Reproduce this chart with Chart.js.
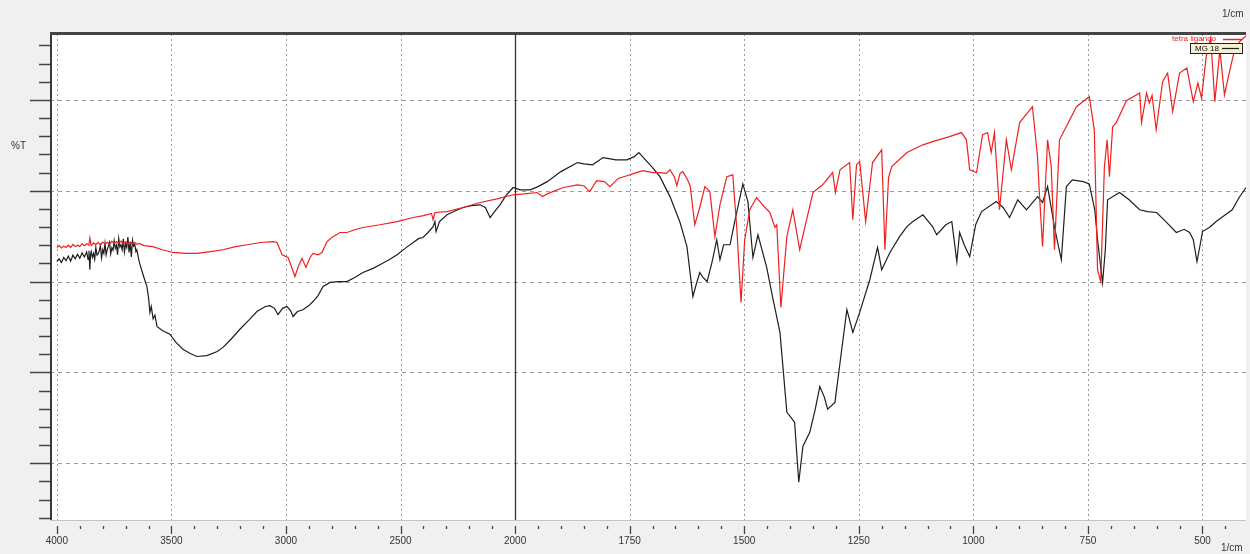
<!DOCTYPE html>
<html>
<head>
<meta charset="utf-8">
<title>FTIR</title>
<script src="https://cdn.jsdelivr.net/npm/chart.js@4.4.1/dist/chart.umd.min.js"></script>
<style>
  html, body { margin: 0; padding: 0; background: #f0f0f0; }
  #wrap { width: 1250px; height: 554px; }
</style>
</head>
<body>
<div id="wrap"><canvas id="ir" width="1250" height="554"></canvas></div>
<script>
// MG 18 spectrum (black)
const mgWavenumber = [4000,3990,3980,3970,3960,3950,3940,3930,3920,3910,3900,3890,3880,3870,3864,3860,3856,3853,3850,3845,3840,3835,3830,3825,3820,3815,3810,3805,3800,3795,3790,3785,3780,3775,3770,3765,3760,3755,3750,3745,3740,3735,3730,3725,3720,3715,3710,3705,3700,3695,3690,3685,3680,3675,3670,3665,3660,3655,3651,3640,3620,3607,3600,3594,3588,3580,3572,3563,3540,3507,3480,3450,3420,3389,3345,3300,3275,3240,3201,3160,3127,3090,3070,3050,3035,3015,2996,2980,2969,2950,2926,2900,2882,2860,2838,2808,2770,2734,2700,2664,2620,2590,2550,2515,2480,2445,2420,2402,2380,2358,2350,2345,2330,2297,2260,2227,2190,2153,2130,2109,2090,2066,2040,2009,1989,1967,1950,1930,1900,1864,1850,1831,1808,1780,1756,1740,1730,1712,1700,1684,1662,1640,1625,1612,1605,1597,1590,1581,1570,1560,1553,1545,1531,1520,1503,1492,1481,1470,1451,1437,1422,1407,1398,1390,1381,1372,1357,1345,1335,1325,1318,1302,1290,1276,1263,1248,1226,1209,1200,1182,1161,1145,1132,1110,1089,1080,1060,1047,1036,1030,1020,1008,995,982,950,935,921,903,884,860,849,838,823,815,808,797,784,760,747,735,729,718,712,707,681,660,637,620,600,580,557,540,528,520,512,505,500,485,470,450,435,420,405];
const mgTransmittance = [44.4,45.0,44.2,45.3,44.6,45.6,44.5,45.8,45.0,46.0,45.1,46.3,45.4,46.5,44.9,46.8,42.6,46.0,46.6,45.3,46.2,44.9,47.5,45.8,46.1,46.8,47.9,45.2,47.0,46.2,48.4,45.9,47.1,47.8,48.6,46.1,47.4,46.9,49.0,47.3,48.0,45.9,49.5,47.6,48.1,47.0,49.4,46.5,48.3,47.5,49.8,46.4,48.6,45.4,49.1,47.8,48.2,46.6,47.0,44.2,40.9,38.9,36.5,33.2,34.5,31.8,32.6,30.1,29.2,28.4,26.6,25.1,24.2,23.5,23.7,24.6,25.5,27.3,29.5,31.6,33.4,34.5,34.7,34.1,32.7,34.1,34.5,33.6,32.3,33.4,33.8,34.7,35.6,36.9,38.9,39.8,40.0,40.0,40.9,42.0,42.9,43.7,44.8,45.9,47.3,48.6,49.5,49.7,50.8,52.1,53.2,51.0,53.2,54.7,55.6,56.3,56.7,56.9,56.3,54.1,55.4,56.9,58.9,60.7,60.2,60.2,60.9,62.0,64.2,66.2,65.9,65.7,67.3,66.8,66.8,67.5,68.4,66.4,65.1,63.1,58.7,53.0,47.7,36.7,39.3,42.0,40.9,40.0,44.4,49.2,44.8,48.1,48.1,53.6,61.5,57.6,45.3,50.3,43.1,36.0,28.8,11.2,10.1,9.0,-4.2,3.7,6.8,11.9,16.9,14.5,11.9,13.4,22.9,33.8,28.8,33.2,40.4,47.5,42.6,46.4,49.9,52.1,53.2,54.7,52.1,50.3,52.5,53.2,44.4,50.8,48.1,45.5,52.5,55.4,57.6,56.3,54.1,58.0,55.8,58.7,57.4,60.9,52.1,48.1,44.8,60.9,62.4,62.0,61.5,55.8,49.2,39.8,47.0,58.0,59.6,58.0,55.8,55.4,55.2,53.2,50.8,51.5,50.8,49.2,44.4,48.1,51.0,51.9,53.2,54.7,55.8,58.5,60.7];

// tetra ligando spectrum (red)
const tetraWavenumber = [4000,3990,3980,3970,3960,3950,3940,3930,3920,3910,3900,3890,3880,3870,3860,3856,3850,3840,3830,3820,3810,3800,3790,3780,3770,3760,3750,3740,3730,3720,3710,3700,3690,3680,3670,3660,3650,3640,3620,3581,3540,3493,3440,3389,3330,3275,3220,3170,3110,3057,3039,3026,3017,2991,2975,2961,2945,2930,2913,2895,2882,2860,2843,2821,2800,2764,2734,2700,2664,2590,2515,2445,2400,2365,2358,2350,2297,2227,2153,2079,2009,1980,1952,1940,1930,1895,1864,1850,1837,1822,1805,1793,1775,1756,1740,1721,1700,1684,1670,1662,1652,1647,1640,1634,1625,1618,1608,1597,1586,1575,1564,1553,1538,1525,1516,1507,1499,1488,1473,1460,1444,1433,1429,1420,1407,1394,1379,1364,1350,1329,1307,1301,1291,1270,1263,1255,1248,1235,1220,1200,1193,1185,1178,1145,1110,1089,1052,1026,1015,1008,993,980,969,961,954,943,928,917,899,871,860,856,849,838,830,823,812,775,747,736,729,722,714,708,703,696,688,666,637,633,622,616,610,601,587,576,565,550,534,520,510,502,491,482,473,462,452,441,430,419,405];
const tetraTransmittance = [47.5,47.9,47.4,47.8,47.5,48.0,47.5,48.2,47.7,48.0,47.7,48.3,47.9,48.3,48.0,49.6,47.9,48.5,48.1,48.6,48.0,48.7,48.3,48.6,48.2,48.9,48.4,48.8,48.4,48.9,48.3,48.8,48.3,48.7,48.3,48.6,48.2,48.4,47.9,47.7,47.0,46.4,46.2,46.2,46.6,47.0,47.7,48.1,48.6,48.8,48.6,47.0,45.9,45.3,43.1,41.1,43.5,45.1,43.1,45.3,46.2,45.9,46.4,48.8,49.7,50.8,50.8,51.4,51.9,52.5,53.2,54.1,54.5,55.0,53.6,55.2,55.4,56.3,57.4,58.2,59.1,59.3,59.6,58.7,59.3,60.7,61.3,61.1,59.8,62.2,62.0,60.9,62.7,63.3,63.8,64.4,64.0,64.0,63.8,64.6,62.9,61.1,63.8,64.2,62.7,61.1,52.5,56.3,60.9,59.8,49.9,56.9,63.1,63.5,51.4,35.4,49.2,55.8,58.5,56.9,55.2,51.9,52.5,34.3,49.9,55.8,47.0,53.6,59.6,61.3,64.0,59.6,64.6,66.2,53.6,65.7,66.4,53.2,66.2,69.0,47.0,62.9,65.3,68.4,70.1,70.8,71.9,72.8,71.2,64.6,64.0,72.3,72.8,68.4,72.8,55.8,71.2,64.6,75.0,78.5,67.5,59.6,47.7,71.2,65.3,47.0,71.2,78.5,80.7,73.4,42.6,40.0,65.3,71.2,63.1,74.1,75.0,79.8,81.5,75.0,81.5,79.3,81.0,73.4,84.0,85.9,77.4,85.9,87.0,79.6,83.7,80.4,90.3,93.6,79.6,91.0,81.1,86.2,91.0,92.8,94.1];

// Labelled wavenumber ticks
const majorTicks = [4000, 3500, 3000, 2500, 2000, 1750, 1500, 1250, 1000, 750, 500];
// Major horizontal grid levels of the %T axis
const yMajor = [0, 20, 40, 60, 80];

// The wavenumber axis is stretched 2x below 2000 1/cm.
function toAxis(w) { return w >= 2000 ? 4000 - w : 2000 + 2 * (2000 - w); }
function fromAxis(p) { return p <= 2000 ? 4000 - p : 2000 - (p - 2000) / 2; }

const minorTicks = [];
for (let w = 3900; w > 2000; w -= 100) if (!majorTicks.includes(w)) minorTicks.push(w);
for (let w = 1950; w >= 450; w -= 50) if (!majorTicks.includes(w)) minorTicks.push(w);
const allTicks = majorTicks.concat(minorTicks).sort((a, b) => b - a);

const mgPoints = mgWavenumber.map((w, i) => ({ x: toAxis(w), y: mgTransmittance[i] }));
const tetraPoints = tetraWavenumber.map((w, i) => ({ x: toAxis(w), y: tetraTransmittance[i] }));

const FONT = '"Liberation Sans", Arial, sans-serif';
const RED = '#ee2020';

const spectrumFrame = {
  id: 'spectrumFrame',
  beforeDraw(chart) {
    const { ctx, chartArea: a } = chart;
    ctx.save();
    ctx.fillStyle = '#f0f0f0';
    ctx.fillRect(0, 0, chart.width, chart.height);
    ctx.fillStyle = '#ffffff';
    ctx.fillRect(a.left, a.top, a.right - a.left, a.bottom - a.top);
    ctx.restore();
  },
  beforeDatasetsDraw(chart) {
    const { ctx, chartArea: a, scales: { x, y } } = chart;
    ctx.save();
    ctx.lineWidth = 1;
    ctx.strokeStyle = '#9c9c9c';
    ctx.setLineDash([4, 4]);
    yMajor.forEach(v => {
      const py = Math.round(y.getPixelForValue(v)) + 0.5;
      ctx.beginPath(); ctx.moveTo(a.left, py); ctx.lineTo(a.right, py); ctx.stroke();
    });
    ctx.setLineDash([2, 3]);
    majorTicks.forEach(w => {
      if (w === 2000) return;
      const px = Math.round(x.getPixelForValue(toAxis(w))) + 0.5;
      ctx.beginPath(); ctx.moveTo(px, a.top); ctx.lineTo(px, a.bottom); ctx.stroke();
    });
    ctx.setLineDash([]);
    ctx.strokeStyle = '#333333';
    ctx.lineWidth = 1.3;
    const p2 = Math.round(x.getPixelForValue(toAxis(2000))) + 0.5;
    ctx.beginPath(); ctx.moveTo(p2, a.top); ctx.lineTo(p2, a.bottom); ctx.stroke();
    ctx.restore();
  },
  afterDraw(chart) {
    const { ctx, chartArea: a, scales: { x, y } } = chart;
    ctx.save();
    // frame
    ctx.strokeStyle = '#c4c4c4';
    ctx.lineWidth = 1;
    ctx.beginPath(); ctx.moveTo(a.left, a.bottom + 0.5); ctx.lineTo(a.right, a.bottom + 0.5); ctx.stroke();
    ctx.strokeStyle = '#3a3a3a';
    ctx.lineWidth = 2;
    ctx.beginPath(); ctx.moveTo(a.left + 1, a.top); ctx.lineTo(a.left + 1, a.bottom); ctx.stroke();
    ctx.lineWidth = 3;
    ctx.strokeStyle = '#444444';
    ctx.beginPath(); ctx.moveTo(a.left, a.top - 0.5); ctx.lineTo(a.right, a.top - 0.5); ctx.stroke();

    // %T ticks on the left
    ctx.strokeStyle = '#444444';
    ctx.lineWidth = 1.5;
    for (let v = -12; v <= 92; v += 4) {
      const py = Math.round(y.getPixelForValue(v)) + 0.5;
      const major = v % 20 === 0;
      ctx.beginPath(); ctx.moveTo(major ? a.left - 20 : a.left - 11, py); ctx.lineTo(a.left, py); ctx.stroke();
    }
    // wavenumber ticks below
    ctx.lineWidth = 1.3;
    ctx.strokeStyle = '#444444';
    allTicks.forEach(w => {
      const px = Math.round(x.getPixelForValue(toAxis(w))) + 0.5;
      const major = majorTicks.includes(w);
      ctx.beginPath(); ctx.moveTo(px, a.bottom + 6); ctx.lineTo(px, a.bottom + (major ? 14 : 9)); ctx.stroke();
    });

    // unit captions
    ctx.fillStyle = '#333333';
    ctx.font = '10px ' + FONT;
    ctx.textBaseline = 'middle';
    ctx.textAlign = 'left';
    ctx.fillText('%T', 11, 146);
    ctx.fillText('1/cm', 1222, 14);
    ctx.fillText('1/cm', 1221, 548);

    // legend
    ctx.font = '8px ' + FONT;
    ctx.fillStyle = RED;
    ctx.fillText('tetra ligando', 1172, 39);
    ctx.strokeStyle = RED;
    ctx.lineWidth = 1.5;
    ctx.beginPath(); ctx.moveTo(1223, 39.5); ctx.lineTo(1242, 39.5); ctx.stroke();
    ctx.fillStyle = '#f4f0d2';
    ctx.fillRect(1190, 43, 52, 10);
    ctx.strokeStyle = '#222222';
    ctx.lineWidth = 1;
    ctx.strokeRect(1190.5, 43.5, 52, 10);
    ctx.fillStyle = '#111111';
    ctx.fillText('MG 18', 1195, 48.5);
    ctx.lineWidth = 1.2;
    ctx.beginPath(); ctx.moveTo(1222, 48.5); ctx.lineTo(1239, 48.5); ctx.stroke();
    ctx.restore();
  }
};

new Chart(document.getElementById('ir'), {
  type: 'line',
  data: {
    datasets: [
      { label: 'tetra ligando', data: tetraPoints, borderColor: RED, borderWidth: 1.2, pointRadius: 0, tension: 0 },
      { label: 'MG 18', data: mgPoints, borderColor: '#1e1e1e', borderWidth: 1.2, pointRadius: 0, tension: 0 }
    ]
  },
  options: {
    responsive: false,
    animation: false,
    events: [],
    layout: { padding: { top: 34, right: 4, left: 0, bottom: 0 } },
    plugins: { legend: { display: false }, tooltip: { enabled: false } },
    scales: {
      x: {
        type: 'linear',
        min: -30,
        max: 5190,
        afterBuildTicks: s => { s.ticks = allTicks.map(w => ({ value: toAxis(w) })); },
        afterFit: s => { s.height = 34; },
        ticks: {
          autoSkip: false,
          maxRotation: 0,
          padding: 5,
          color: '#333333',
          font: { family: FONT, size: 10 },
          callback: v => {
            const w = Math.round(fromAxis(v));
            return majorTicks.includes(w) ? String(w) : '';
          }
        },
        grid: { display: true, drawOnChartArea: false, drawTicks: true, tickLength: 10, color: 'rgba(0,0,0,0)', tickColor: 'rgba(0,0,0,0)' },
        border: { display: false }
      },
      y: {
        type: 'linear',
        min: -12.5,
        max: 94.5,
        afterFit: s => { s.width = 50; },
        ticks: { display: false },
        grid: { display: false },
        border: { display: false }
      }
    }
  },
  plugins: [spectrumFrame]
});
</script>
</body>
</html>
